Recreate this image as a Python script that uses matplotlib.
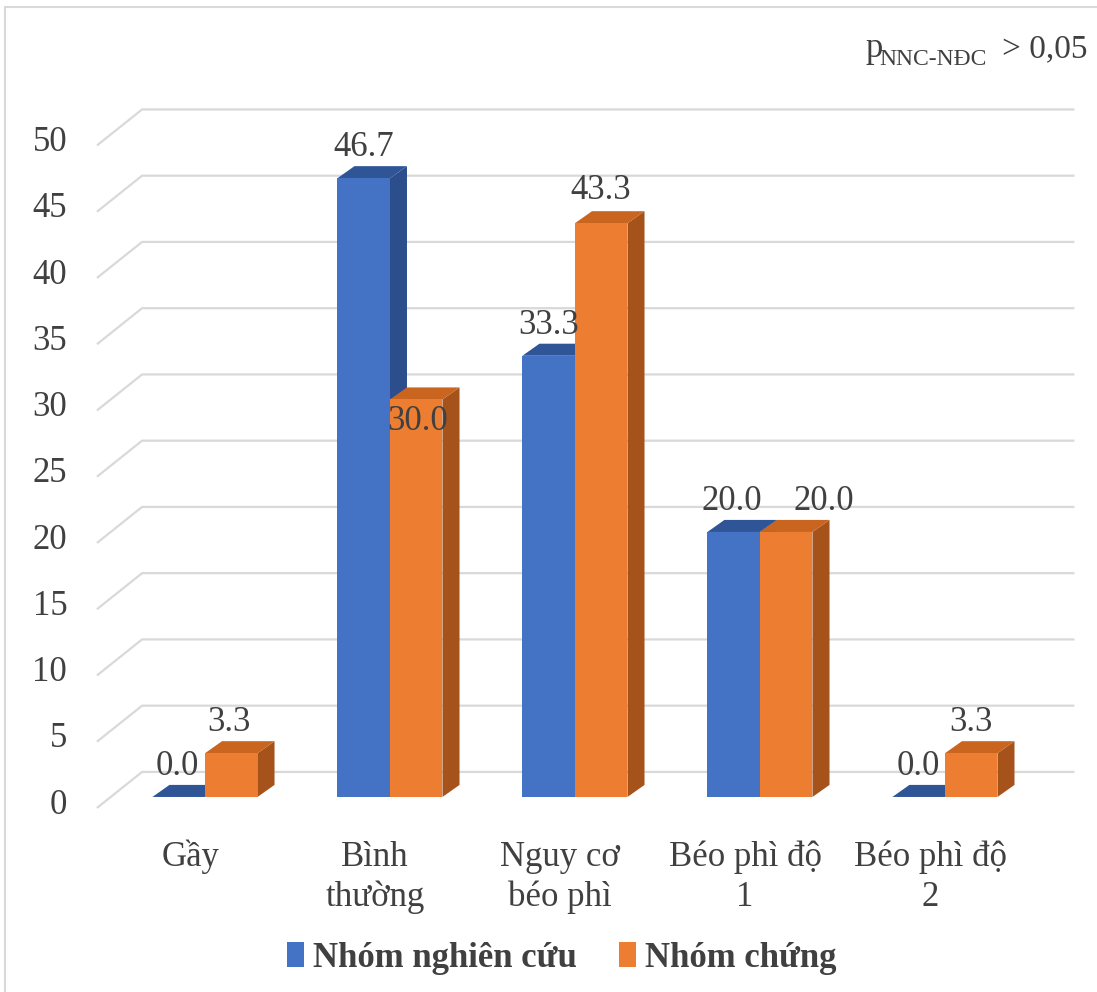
import matplotlib
matplotlib.use('Agg')
import matplotlib.pyplot as plt
from matplotlib.patches import Polygon, Patch, Rectangle

# 数据
categories = ['Gầy', 'Bình\nthường', 'Nguy cơ\nbéo phì', 'Béo phì độ\n1', 'Béo phì độ\n2']
series_names = ['Nhóm nghiên cứu', 'Nhóm chứng']
nhom_nghien_cuu = [0.0, 46.7, 33.3, 20.0, 0.0]
nhom_chung = [3.3, 30.0, 43.3, 20.0, 3.3]
y_ticks = [0, 5, 10, 15, 20, 25, 30, 35, 40, 45, 50]

# 样式
font = 'Liberation Serif'
text_color = '#404040'
grid_color = '#D9D9D9'
front_colors = ['#4472C4', '#ED7D31']
top_colors = ['#2F5597', '#C9651F']
side_colors = ['#2C4E8C', '#A5521B']

bar_w = 0.284      # 柱宽（数据单位）
ddx, ddy = 0.092, 0.91   # 柱体深度
wall_dy = 1.89     # 背墙网格偏移
slant_x0, slant_x1 = -0.34, -0.584
slant_dy = -0.83
grid_right = 4.70

# 标签微调（像素）
label_nudge = {(0, 0): (-1, 0), (1, 0): (-2, 0), (1, 1): (1, -52),
               (1, 2): (-1, 2), (0, 3): (-2, 0), (1, 3): (38, 0), (1, 4): (0, 0)}

fig = plt.figure(figsize=(10.97, 9.92), dpi=100)
ax = fig.add_axes([0, 0, 1, 1])
ax.set_xlim(-1.108, 4.822)
ax.set_ylim(-14.72, 60.15)
ax.axis('off')

# 网格线（背墙 + 左侧斜线）
for v in y_ticks:
    ax.plot([slant_x1, slant_x0, grid_right], [v + slant_dy, v + wall_dy, v + wall_dy],
            color=grid_color, lw=1.6, zorder=1, solid_capstyle='butt')
    ax.text(-0.745, v - 0.62, str(v), ha='right', va='center', fontsize=25,
            family=font, color=text_color)

# 3D 柱
series = [nhom_nghien_cuu, nhom_chung]
for i in range(len(categories)):
    for s, vals in enumerate(series):
        v = vals[i]
        x0 = i - bar_w if s == 0 else i
        x1 = x0 + bar_w
        z = 3 + s
        ax.add_patch(Polygon([(x1, 0), (x1, v), (x1 + ddx, v + ddy), (x1 + ddx, ddy)],
                             closed=True, fc=side_colors[s], lw=0, zorder=z))
        ax.add_patch(Polygon([(x0, v), (x1, v), (x1 + ddx, v + ddy), (x0 + ddx, v + ddy)],
                             closed=True, fc=top_colors[s], lw=0, zorder=z))
        ax.bar(x0, v, width=bar_w, align='edge', color=front_colors[s], lw=0, zorder=z)
        dx, dy = label_nudge.get((s, i), (0, 0))
        ax.annotate(f'{v:.1f}', xy=(x0 + bar_w / 2, v + 2.3), xytext=(dx, dy),
                    textcoords='offset pixels', ha='center', va='center',
                    fontsize=25, family=font, color=text_color, zorder=10)

# 分类标签
for i, lab in enumerate(categories):
    for k, line in enumerate(lab.split('\n')):
        ax.text(i - 0.08, -5.21 - 3.02 * k, line, ha='center', va='baseline',
                fontsize=25, family=font, color=text_color)

# p 值
fig.text(865 / 1097, (992 - 57) / 992, 'p', fontsize=25, family=font,
         color=text_color, va='baseline', ha='left')
fig.text(879 / 1097, (992 - 65) / 992, 'NNC-NĐC', fontsize=17, family=font,
         color=text_color, va='baseline', ha='left')
fig.text(1088 / 1097, (992 - 57) / 992, '> 0,05', fontsize=24, family=font,
         color=text_color, va='baseline', ha='right')

# 图例
handles = [Patch(facecolor=c, edgecolor='none') for c in front_colors]
fig.legend(handles, series_names, loc='center', bbox_to_anchor=(0.512, 0.034),
           ncol=2, frameon=False, handlelength=0.5, handleheight=0.72,
           handletextpad=0.25, columnspacing=1.2,
           prop={'family': font, 'size': 25, 'weight': 'bold'},
           labelcolor=text_color)

# 外框
fig.add_artist(Rectangle((5 / 1097, -0.05), 1.1, (992 - 7) / 992 + 0.05,
                         transform=fig.transFigure, fill=False,
                         edgecolor=grid_color, lw=1.5))

fig.savefig('out.png', dpi=100, facecolor='white')
